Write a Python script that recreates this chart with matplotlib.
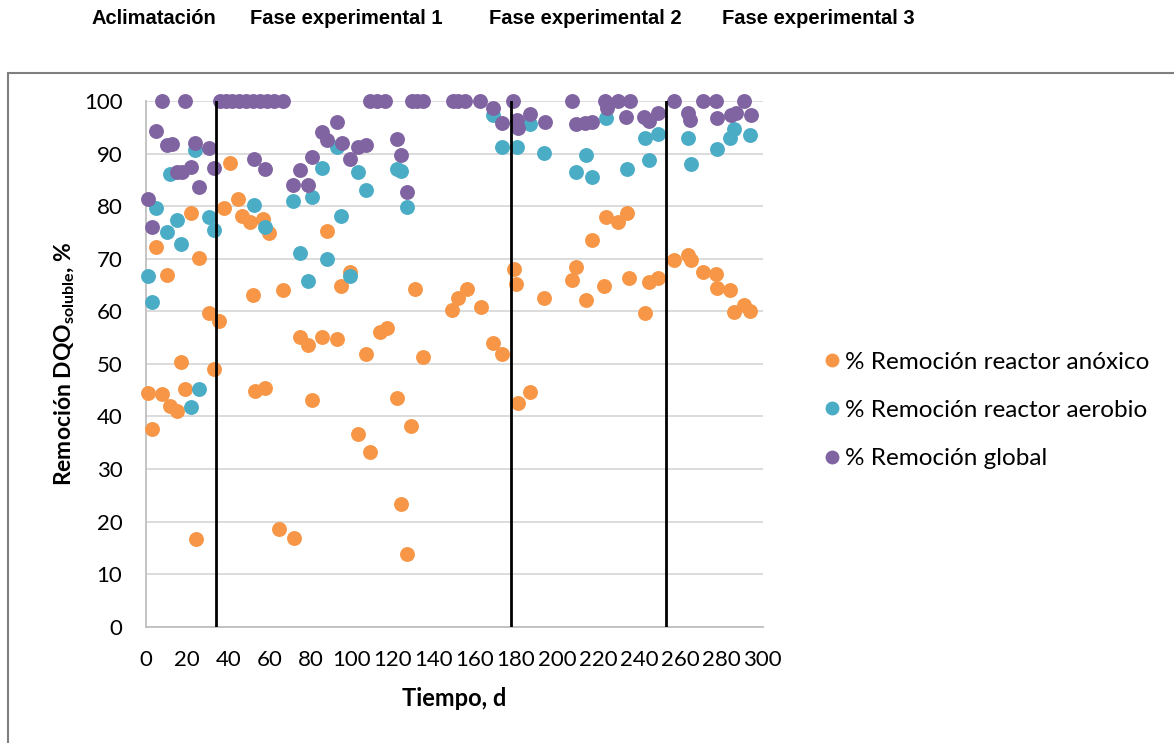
import numpy as np
import matplotlib.pyplot as plt
from matplotlib.patches import Rectangle
from matplotlib.lines import Line2D

plt.rcParams['font.family'] = ['Lato', 'DejaVu Sans']
plt.rcParams['mathtext.fontset'] = 'custom'
plt.rcParams['mathtext.rm'] = 'Lato'
plt.rcParams['mathtext.bf'] = 'Lato:bold'

# % Remoción reactor anóxico
x_anox = [0.8, 2.9, 4.9, 7.9, 10.1, 11.7, 14.9, 16.9, 19.0, 21.9, 24.2, 25.9, 30.8, 33.1,
          35.7, 38.1, 40.9, 44.9, 46.8, 50.6, 51.9, 53.0, 57.1, 57.9, 59.8, 64.8, 66.8,
          71.9, 74.9, 78.9, 80.9, 85.8, 87.9, 92.7, 94.8, 99.2, 103.0, 107.0, 109.0,
          113.8, 117.1, 121.9, 123.9, 126.8, 128.9, 130.8, 134.9, 149.0, 151.9, 156.0,
          162.9, 168.9, 173.0, 179.1, 179.9, 181.1, 186.8, 193.7, 207.0, 209.0, 213.9,
          216.8, 222.9, 223.7, 229.7, 234.1, 234.9, 242.7, 244.8, 248.9, 256.8, 263.8,
          265.1, 270.8, 277.2, 277.9, 284.0, 286.0, 291.0, 293.8]
y_anox = [44.5, 37.6, 72.2, 44.2, 66.9, 42.0, 41.0, 50.3, 45.3, 78.7, 16.6, 70.2, 59.7, 49.0,
          58.2, 79.7, 88.2, 81.3, 78.1, 77.0, 63.1, 44.9, 77.6, 45.5, 74.9, 18.6, 64.0,
          16.9, 55.1, 53.6, 43.1, 55.1, 75.2, 54.8, 64.8, 67.5, 36.6, 51.8, 33.2,
          56.1, 56.9, 43.5, 23.3, 13.8, 38.2, 64.2, 51.3, 60.2, 62.6, 64.2,
          60.8, 53.9, 51.8, 68.1, 65.2, 42.6, 44.7, 62.6, 66.0, 68.4, 62.1,
          73.5, 64.8, 77.9, 77.0, 78.7, 66.4, 59.7, 65.6, 66.4, 69.8, 70.7,
          69.7, 67.5, 67.1, 64.5, 64.1, 59.9, 61.2, 60.0]

# % Remoción reactor aerobio
x_aer = [0.8, 2.8, 4.9, 10.1, 11.7, 14.9, 16.9, 21.9, 23.8, 25.9, 30.8, 33.1, 52.7, 57.9,
         71.7, 74.9, 78.9, 80.9, 85.8, 87.9, 92.7, 94.8, 99.2, 103.0, 107.0, 121.9, 124.0,
         126.8, 168.9, 173.0, 180.7, 186.8, 193.7, 209.0, 213.9, 217.1, 223.7, 233.8,
         242.7, 244.8, 248.9, 263.8, 265.1, 277.9, 284.0, 286.0, 293.8]
y_aer = [66.7, 61.7, 79.7, 75.1, 86.1, 77.3, 72.8, 41.7, 90.6, 45.3, 77.9, 75.4, 80.2, 76.0,
         81.0, 71.0, 65.8, 81.7, 87.3, 70.0, 91.3, 78.1, 66.7, 86.4, 83.0, 87.1, 86.7,
         79.8, 97.3, 91.3, 91.2, 95.7, 90.2, 86.5, 89.7, 85.6, 96.8, 87.0,
         93.0, 88.7, 93.8, 93.0, 88.0, 90.8, 93.0, 94.6, 93.5]

# % Remoción global
x_glob = [0.8, 3.1, 4.9, 7.9, 10.1, 12.5, 14.9, 17.7, 19.0, 21.9, 23.8, 25.9, 30.8, 33.1,
          36.0, 39.0, 42.0, 45.0, 48.5, 52.0, 55.5, 59.0, 62.5, 66.5, 52.7, 57.9,
          71.7, 74.9, 78.9, 80.9, 85.8, 87.9, 92.7, 95.2, 99.2, 103.3, 107.0, 109.0,
          112.5, 116.2, 121.9, 123.9, 126.8, 129.2, 132.0, 134.9, 149.5, 152.0, 155.2,
          162.5, 168.9, 173.0, 178.6, 180.3, 181.1, 187.0, 194.0, 207.0, 209.0, 213.5,
          217.0, 223.2, 224.1, 229.7, 233.5, 235.4, 242.3, 244.9, 249.0, 257.0, 263.8,
          264.8, 271.0, 277.5, 277.8, 284.5, 287.0, 291.0, 294.2]
y_glob = [81.4, 76.0, 94.2, 100, 91.6, 91.9, 86.5, 86.4, 100, 87.5, 92.1, 83.7, 91.0, 87.3,
          100, 100, 100, 100, 100, 100, 100, 100, 100, 100, 88.9, 87.0,
          84.0, 86.8, 84.0, 89.4, 94.1, 92.5, 96.0, 92.1, 89.0, 91.3, 91.7, 100,
          100, 100, 92.7, 89.7, 82.7, 100, 100, 100, 100, 100, 100,
          100, 98.6, 95.9, 100, 96.4, 94.8, 97.5, 96.1, 100, 95.7, 95.9,
          96.1, 100, 98.7, 100, 97.0, 100, 97.0, 96.2, 97.8, 100, 97.7,
          96.3, 100, 100, 96.7, 97.3, 97.8, 100, 97.3]

phase_lines = [34, 177.5, 253.2]
phase_names = ['Aclimatación', 'Fase experimental 1', 'Fase experimental 2', 'Fase experimental 3']
phase_x_px = [92, 250, 489, 722]

c_anox = '#F79646'
c_aer = '#4BACC6'
c_glob = '#8064A2'

W, H = 1174, 743
fig = plt.figure(figsize=(W / 100, H / 100), dpi=100)
ax = fig.add_axes([146 / W, 1 - 626.7 / H, (762.7 - 146) / W, (626.7 - 101) / H])

ms = 115
ax.scatter(x_anox, y_anox, s=ms, color=c_anox, linewidths=0, zorder=3, clip_on=False)
ax.scatter(x_aer, y_aer, s=ms, color=c_aer, linewidths=0, zorder=4, clip_on=False)
ax.scatter(x_glob, y_glob, s=ms, color=c_glob, linewidths=0, zorder=5, clip_on=False)

for xl in phase_lines:
    ax.axvline(xl, color='black', lw=2, zorder=6)

ax.set_xlim(0, 300)
ax.set_ylim(0, 100)
ax.set_xticks(np.arange(0, 301, 20))
ax.set_yticks(np.arange(0, 101, 10))
ax.tick_params(length=0, labelsize=16, colors='black')
ax.tick_params(axis='x', pad=17)
ax.tick_params(axis='y', pad=17)
ax.grid(axis='y', color='#d9d9d9', lw=1.3, zorder=0)
ax.set_axisbelow(True)
for s in ['top', 'right']:
    ax.spines[s].set_visible(False)
for s in ['left', 'bottom']:
    ax.spines[s].set_color('#bfbfbf')
    ax.spines[s].set_linewidth(1.3)

ax.set_xlabel('Tiempo, d', fontsize=17, fontweight='bold', labelpad=12)
ax.set_ylabel(r'Remoción DQO$_{\mathbf{soluble}}$, %', fontsize=16.5, fontweight='bold', labelpad=5)

handles = [Line2D([], [], ls='', marker='o', ms=10, color=c, mec='none') for c in (c_anox, c_aer, c_glob)]
labels = ['% Remoción reactor anóxico', '% Remoción reactor aerobio', '% Remoción global']
fig.legend(handles, labels, loc='upper left', bbox_to_anchor=(810 / W, 1 - 342 / H),
           frameon=False, fontsize=17.5, labelspacing=1.12, handletextpad=0.05,
           handlelength=1.0, borderaxespad=0)

for name, px in zip(phase_names, phase_x_px):
    fig.text(px / W, 1 - 18 / H, name, ha='left', va='center', fontsize=14.5,
             fontweight='bold', family='Liberation Sans')

fig.patches.append(Rectangle((8 / W, -0.1), 2, 1.1 - 73 / H, transform=fig.transFigure,
                             fill=False, edgecolor='#7f7f7f', lw=1.5))

fig.savefig('out.png', dpi=100)
